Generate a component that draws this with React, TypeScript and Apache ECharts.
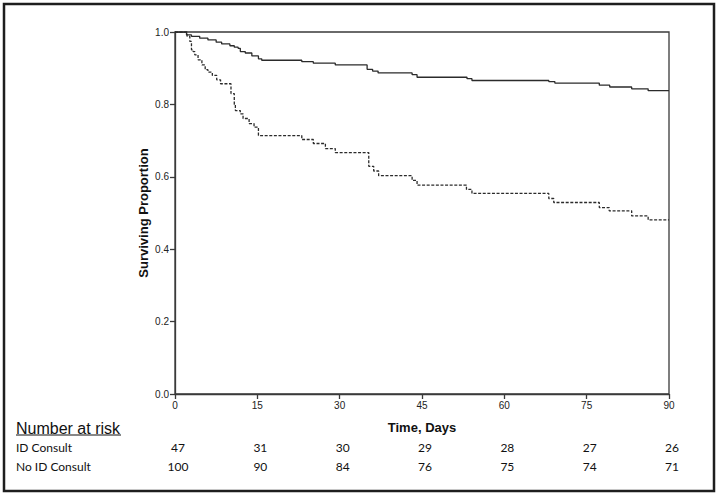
import React, { useEffect, useRef } from "react";
import * as echarts from "echarts";

// Kaplan-Meier step points (day, surviving proportion)
const solidDays = [0, 2.1, 3.0, 4.5, 6.0, 7.5, 8.5, 10.0, 10.8, 11.5, 11.9, 12.8, 14.0, 15.2, 15.8, 23.1, 25.2, 29.2, 35.0, 36.0, 37.0, 43.2, 44.1, 53.2, 54.1, 68.1, 69.2, 77.3, 79.2, 83.2, 86.2, 90];
const solidSurv = [1.0, 0.992, 0.988, 0.983, 0.978, 0.972, 0.967, 0.962, 0.958, 0.955, 0.946, 0.942, 0.934, 0.926, 0.922, 0.918, 0.914, 0.909, 0.897, 0.892, 0.887, 0.882, 0.875, 0.871, 0.866, 0.863, 0.859, 0.853, 0.848, 0.843, 0.838, 0.838];

const dashedDays = [0, 2.2, 2.7, 3.0, 3.3, 3.6, 4.2, 4.9, 5.5, 6.0, 6.8, 7.6, 8.3, 10.2, 10.8, 11.0, 11.9, 12.4, 13.5, 14.4, 15.2, 23.1, 25.2, 27.4, 29.2, 35.3, 36.2, 37.1, 43.2, 44.1, 53.1, 54.1, 68.1, 69.0, 77.3, 79.1, 83.2, 86.2, 90];
const dashedSurv = [1.0, 0.988, 0.974, 0.951, 0.946, 0.937, 0.923, 0.909, 0.896, 0.889, 0.880, 0.868, 0.857, 0.830, 0.800, 0.783, 0.774, 0.761, 0.747, 0.737, 0.714, 0.703, 0.692, 0.678, 0.667, 0.629, 0.616, 0.603, 0.590, 0.577, 0.565, 0.554, 0.540, 0.529, 0.515, 0.506, 0.492, 0.481, 0.481];

// Number at risk table
const riskDays = [0, 15, 30, 45, 60, 75, 90];
const riskGroups = ["ID Consult", "No ID Consult"];
const idConsultAtRisk = [47, 31, 30, 29, 28, 27, 26];
const noIdConsultAtRisk = [100, 90, 84, 76, 75, 74, 71];

const LINE = "#2b2b2b";
const AXIS = "#3a3a3a";

export default function App() {
  const ref = useRef<HTMLDivElement>(null);
  useEffect(() => {
    if (!ref.current) return;
    const chart = echarts.init(ref.current, null, { renderer: "svg" });
    const tickFont = { fontFamily: "Liberation Sans, Arial, sans-serif", fontSize: 10, color: "#222" };
    chart.setOption({
      animation: false,
      backgroundColor: "#ffffff",
      grid: {
        left: 175,
        right: 51,
        top: 32,
        bottom: 104,
        show: true,
        borderColor: AXIS,
        borderWidth: 1.3,
      },
      xAxis: {
        type: "value",
        min: 0,
        max: 90,
        interval: 15,
        name: "Time, Days",
        nameLocation: "middle",
        nameGap: 27,
        nameMoveOverlap: false,
        nameTextStyle: { fontFamily: "Liberation Sans, Arial, sans-serif", fontSize: 13, fontWeight: "bold", color: "#111" },
        axisLine: { show: true, lineStyle: { color: AXIS, width: 1.3 } },
        axisTick: { show: true, length: 5, lineStyle: { color: AXIS, width: 1.3 } },
        axisLabel: { ...tickFont, margin: 6 },
        splitLine: { show: false },
      },
      yAxis: {
        type: "value",
        min: 0,
        max: 1,
        interval: 0.2,
        name: "Surviving Proportion",
        nameLocation: "middle",
        nameGap: 25,
        nameMoveOverlap: false,
        nameRotate: 90,
        nameTextStyle: { fontFamily: "Liberation Sans, Arial, sans-serif", fontSize: 13, fontWeight: "bold", color: "#111" },
        axisLine: { show: true, lineStyle: { color: AXIS, width: 1.3 } },
        axisTick: { show: true, length: 5, lineStyle: { color: AXIS, width: 1.3 } },
        axisLabel: { ...tickFont, margin: 6, formatter: (v: number) => v.toFixed(1) },
        splitLine: { show: false },
      },
      series: [
        {
          name: "Solid curve",
          type: "line",
          step: "end",
          symbol: "none",
          data: solidDays.map((d, i) => [d, solidSurv[i]]),
          lineStyle: { color: LINE, width: 1.3, type: "solid" },
        },
        {
          name: "Dashed curve",
          type: "line",
          step: "end",
          symbol: "none",
          data: dashedDays.map((d, i) => [d, dashedSurv[i]]),
          lineStyle: { color: LINE, width: 1.3, type: [3, 1.6] },
        },
      ],
    });

    const rowFont = "12px Lato, 'Open Sans', sans-serif";
    const rowsY = [447, 466];
    const rows = [idConsultAtRisk, noIdConsultAtRisk];
    const graphics: any[] = [
      {
        type: "rect",
        shape: { x: 4, y: 4, width: 710, height: 487 },
        style: { fill: "none", stroke: "#1e1e1e", lineWidth: 2.5 },
        silent: true,
      },
      {
        type: "text",
        x: 16,
        y: 428,
        style: {
          text: "Number at risk",
          font: "16px 'Liberation Sans', Arial, sans-serif",
          fill: "#111",
          align: "left",
          verticalAlign: "middle",
          textAlign: "left",
          textVerticalAlign: "middle",
        },
      },
      {
        type: "line",
        shape: { x1: 16, y1: 435, x2: 121, y2: 435 },
        style: { stroke: "#111", lineWidth: 1 },
      },
    ];
    riskGroups.forEach((g, r) => {
      graphics.push({
        type: "text",
        x: 16,
        y: rowsY[r],
        style: {
          text: g,
          font: rowFont,
          fill: "#111",
          align: "left",
          verticalAlign: "middle",
          textAlign: "left",
          textVerticalAlign: "middle",
        },
      });
      riskDays.forEach((d, c) => {
        const px = chart.convertToPixel({ xAxisIndex: 0 }, d) as number;
        graphics.push({
          type: "text",
          x: px + 3,
          y: rowsY[r],
          style: {
            text: String(rows[r][c]),
            font: rowFont,
            fill: "#111",
            align: "center",
            verticalAlign: "middle",
            textAlign: "center",
            textVerticalAlign: "middle",
          },
        });
      });
    });
    chart.setOption({ graphic: graphics });

    return () => chart.dispose();
  }, []);
  return (
    <div
      ref={ref}
      style={{ position: "fixed", left: 0, top: 0, width: 720, height: 498, background: "#fff" }}
    />
  );
}
